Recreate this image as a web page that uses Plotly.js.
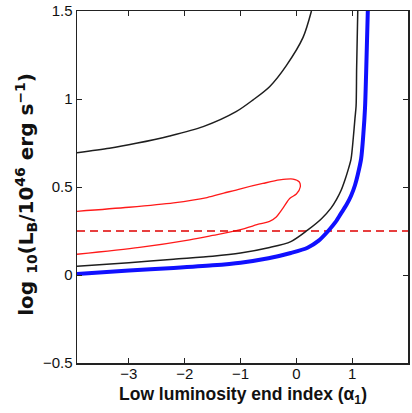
<!DOCTYPE html>
<html>
<head>
<meta charset="utf-8">
<script src="https://cdn.plot.ly/plotly-3.0.1.min.js"></script>
<style>
html,body{margin:0;padding:0;background:#fff;}
#chart{width:412px;height:413px;}
</style>
</head>
<body>
<div id="chart"></div>
<script>
// Upper black contour
const alphaTop = [-3.93, -3.35, -2.87, -2.27, -1.67, -1.08, -0.78, -0.48, -0.18, 0.12, 0.27];
const logLTop  = [0.695, 0.72, 0.748, 0.79, 0.843, 0.928, 0.994, 1.07, 1.19, 1.35, 1.5];

// Lower black contour
const alphaLow = [-3.93, -3.0, -2.2, -1.5, -1.0, -0.5, -0.1, 0.2, 0.45, 0.62, 0.72, 0.8, 0.87, 0.93, 0.98, 1.02, 1.05, 1.07, 1.08, 1.10];
const logLLow  = [0.05, 0.07, 0.09, 0.107, 0.125, 0.155, 0.19, 0.255, 0.32, 0.38, 0.43, 0.48, 0.54, 0.60, 0.66, 0.78, 0.89, 0.96, 1.18, 1.5];

// Blue (thick) curve
const alphaBlue = [-3.93, -3.0, -2.2, -1.5, -1.0, -0.5, -0.1, 0.2, 0.4, 0.57, 0.7, 0.8, 0.9, 0.98, 1.05, 1.1, 1.16, 1.2, 1.23, 1.25, 1.28];
const logLBlue  = [0.005, 0.025, 0.04, 0.055, 0.07, 0.095, 0.125, 0.155, 0.195, 0.25, 0.30, 0.35, 0.40, 0.45, 0.51, 0.57, 0.66, 0.8, 0.95, 1.15, 1.5];

// Red closed contour
const alphaRed = [-3.93, -3.0, -2.2, -1.6, -1.3, -1.0, -0.6, -0.3, -0.06, 0.05, 0.07, 0.0, -0.12, -0.24, -0.36, -0.48, -0.66, -1.02, -1.5, -1.91, -2.81, -3.93];
const logLRed  = [0.362, 0.385, 0.41, 0.44, 0.465, 0.49, 0.52, 0.54, 0.545, 0.53, 0.50, 0.46, 0.435, 0.38, 0.33, 0.305, 0.29, 0.256, 0.225, 0.2, 0.157, 0.118];

// Dashed red level
const dashLevel = 0.25;

// Axes
const xRange = [-3.93, 2];
const yRange = [-0.5, 1.5];
const xTicks = [-3, -2, -1, 0, 1, 2];
const yTicks = [-0.5, 0, 0.5, 1, 1.5];
const xTickText = ['\u22123', '\u22122', '\u22121', '0', '1', '2'];
const yTickText = ['\u22120.5', '0', '0.5', '1', '1.5'];

const xTitle = 'Low luminosity end index (\u03b1<sub>1</sub>)';
const yTitle = 'log <sub>10</sub>(L<sub>B</sub>/10<sup>46</sup> erg s<sup>\u22121</sup>)';

const traces = [
  {x: alphaTop, y: logLTop, mode: 'lines', line: {color: '#1e1e1e', width: 1.5, shape: 'spline', smoothing: 0.8}, hoverinfo: 'skip'},
  {x: alphaRed, y: logLRed, mode: 'lines', line: {color: '#ff1a1a', width: 1.3, shape: 'spline', smoothing: 0.8}, hoverinfo: 'skip'},
  {x: xRange, y: [dashLevel, dashLevel], mode: 'lines', line: {color: '#e00000', width: 1.3, dash: '8px,5px'}, hoverinfo: 'skip'},
  {x: alphaLow, y: logLLow, mode: 'lines', line: {color: '#1e1e1e', width: 1.5, shape: 'spline', smoothing: 0.8}, hoverinfo: 'skip'},
  {x: alphaBlue, y: logLBlue, mode: 'lines', line: {color: '#1010ff', width: 4, shape: 'spline', smoothing: 0.8}, hoverinfo: 'skip'}
];

const tickFont = {family: '"Liberation Sans", Arial, sans-serif', size: 15, color: '#111'};

const layout = {
  width: 412, height: 413,
  margin: {l: 77, r: 4, t: 11, b: 50},
  paper_bgcolor: '#fff', plot_bgcolor: '#fff',
  showlegend: false,
  xaxis: {
    range: xRange, tickvals: xTicks, ticktext: xTickText,
    ticks: 'inside', ticklen: 5, tickwidth: 1, tickcolor: '#222',
    showline: true, linecolor: '#222', linewidth: 1.5, mirror: 'ticks',
    showgrid: false, zeroline: false, tickfont: tickFont, ticklabelstandoff: -4
  },
  yaxis: {
    range: yRange, tickvals: yTicks, ticktext: yTickText,
    ticks: 'inside', ticklen: 5, tickwidth: 1, tickcolor: '#222',
    showline: true, linecolor: '#222', linewidth: 1.5, mirror: 'ticks',
    showgrid: false, zeroline: false, tickfont: tickFont
  },
  annotations: [
    {text: xTitle, xref: 'paper', yref: 'paper', x: 0.5, y: -0.093, xanchor: 'center', yanchor: 'middle', showarrow: false,
     font: {family: '"Liberation Sans", Arial, sans-serif', size: 17.5, color: '#111', weight: 'bold'}},
    {text: yTitle, xref: 'paper', yref: 'paper', x: -0.155, y: 0.48, xanchor: 'center', yanchor: 'middle', textangle: -90, showarrow: false,
     font: {family: '"DejaVu Sans", sans-serif', size: 20, color: '#111', weight: 'bold'}}
  ]
};

Plotly.newPlot('chart', traces, layout, {staticPlot: true, displayModeBar: false});
</script>
</body>
</html>
